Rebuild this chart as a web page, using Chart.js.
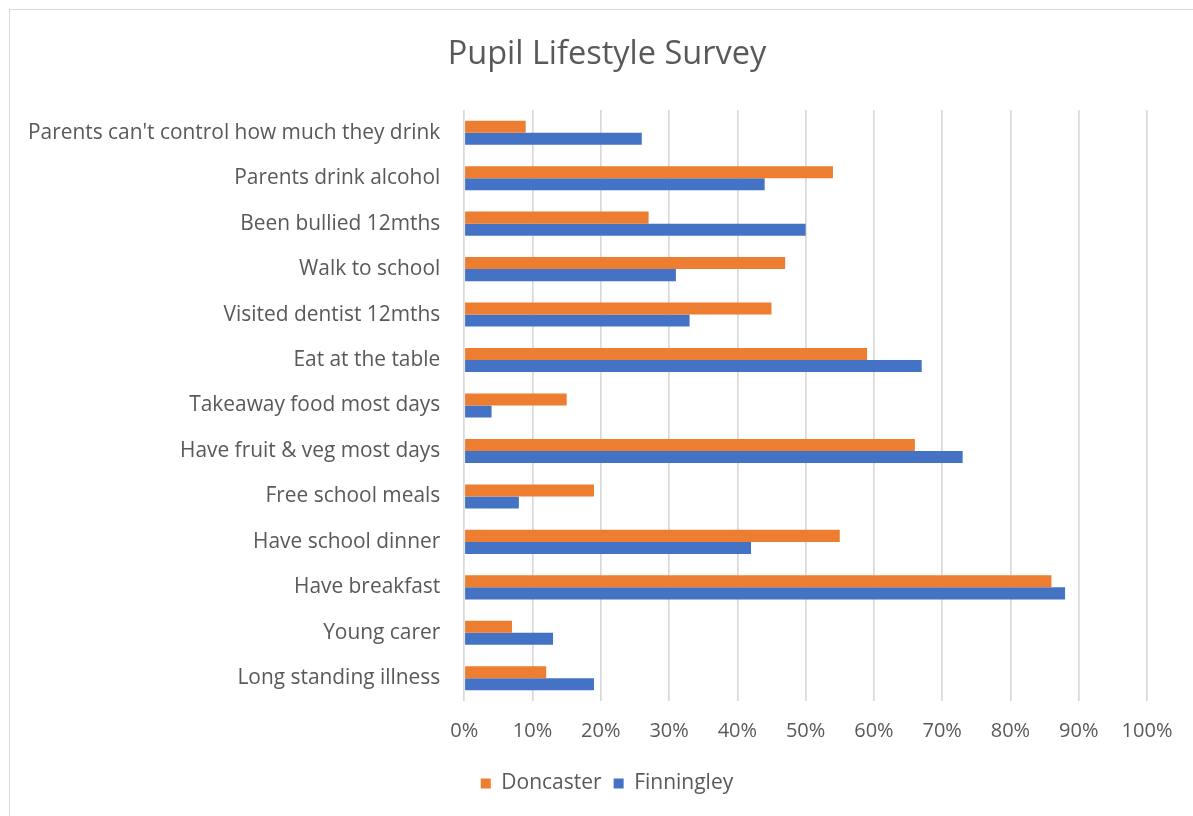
<!DOCTYPE html>
<html>
<head>
<meta charset="utf-8">
<script src="https://cdn.jsdelivr.net/npm/chart.js@4"></script>
<style>
  body { margin: 0; background: #fff; overflow: hidden; }
  #frame { position: absolute; left: 9px; top: 9px; width: 1220px; height: 820px; border: 1px solid #d9d9d9; }
  #wrap { position: absolute; left: 0; top: 0; width: 1210px; height: 816px; }
</style>
</head>
<body>
<div id="frame"></div>
<div id="wrap"><canvas id="chart"></canvas></div>
<script>
const categories = [
    "Parents can't control how much they drink",
    "Parents drink alcohol",
    "Been bullied 12mths",
    "Walk to school",
    "Visited dentist 12mths",
    "Eat at the table",
    "Takeaway food most days",
    "Have fruit & veg most days",
    "Free school meals",
    "Have school dinner",
    "Have breakfast",
    "Young carer",
    "Long standing illness"
];

const doncaster = [9, 54, 27, 47, 45, 59, 15, 66, 19, 55, 86, 7, 12];
const finningley = [26, 44, 50, 31, 33, 67, 4, 73, 8, 42, 88, 13, 19];

const xTicks = [0, 10, 20, 30, 40, 50, 60, 70, 80, 90, 100];

const textColor = "#595959";
const fontFamily = "'Open Sans', sans-serif";

new Chart(document.getElementById("chart"), {
    type: "bar",
    data: {
        labels: categories,
        datasets: [
            {
                label: "Doncaster",
                data: doncaster,
                backgroundColor: "#ed7d31"
            },
            {
                label: "Finningley",
                data: finningley,
                backgroundColor: "#4472c4"
            }
        ]
    },
    options: {
        indexAxis: "y",
        responsive: true,
        maintainAspectRatio: false,
        animation: false,
        categoryPercentage: 0.53,
        barPercentage: 1,
        layout: {
            padding: { left: 4, right: 0, top: 10, bottom: 12 }
        },
        plugins: {
            title: {
                display: true,
                text: "Pupil Lifestyle Survey",
                color: textColor,
                font: { family: fontFamily, size: 32.5, weight: "normal" },
                padding: { top: 25, bottom: 36 }
            },
            legend: {
                position: "bottom",
                labels: {
                    color: textColor,
                    font: { family: fontFamily, size: 21 },
                    boxWidth: 10,
                    boxHeight: 10,
                    padding: 12
                }
            },
            tooltip: { enabled: false }
        },
        scales: {
            x: {
                min: 0,
                max: 100,
                afterBuildTicks: axis => {
                    axis.ticks = xTicks.map(v => ({ value: v }));
                },
                // leave room on the right like the original (chart is cropped there)
                afterFit: axis => {
                    axis.paddingRight = 63;
                },
                ticks: {
                    color: textColor,
                    font: { family: fontFamily, size: 20 },
                    padding: 18,
                    callback: v => v + "%"
                },
                grid: {
                    color: "#d9d9d9",
                    lineWidth: 1.7,
                    drawTicks: false
                },
                border: { display: false }
            },
            y: {
                ticks: {
                    color: textColor,
                    font: { family: fontFamily, size: 20.9 },
                    padding: 24
                },
                grid: { display: false, drawTicks: false },
                border: { display: false }
            }
        }
    }
});
</script>
</body>
</html>
